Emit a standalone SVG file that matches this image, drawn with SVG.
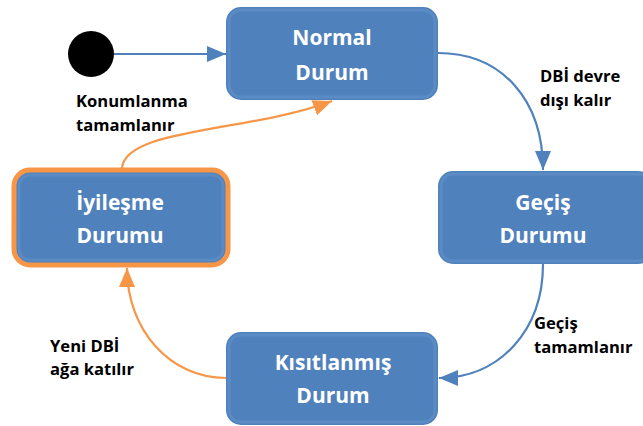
<svg xmlns="http://www.w3.org/2000/svg" width="643" height="426" viewBox="0 0 643 426">
  <style>
    .box { fill: #4F81BD; }
    .bevel { fill: none; stroke: #6A97CF; stroke-width: 3; opacity: 0.45; }
    .ntext { font-family: "Open Sans", "Liberation Sans", sans-serif; font-weight: bold; font-size: 21px; fill: #FFFFFF; text-anchor: middle; }
    .label { font-family: "Open Sans", "Liberation Sans", sans-serif; font-weight: bold; font-size: 16.6px; fill: #000000; }
    .blue { fill: none; stroke: #4F81BD; stroke-width: 2.2; }
    .orange { fill: none; stroke: #F79646; stroke-width: 2.2; }
  </style>
  <defs>
    <marker id="arrowBlue" markerUnits="userSpaceOnUse" markerWidth="20" markerHeight="20" viewBox="0 0 20 20" refX="19" refY="10" orient="auto">
      <path d="M0,2 L19,10 L0,18 Z" fill="#4F81BD"/>
    </marker>
    <marker id="arrowOrange" markerUnits="userSpaceOnUse" markerWidth="20" markerHeight="20" viewBox="0 0 20 20" refX="19" refY="10" orient="auto">
      <path d="M0,2 L19,10 L0,18 Z" fill="#F79646"/>
    </marker>
  </defs>

  <!-- connectors -->
  <g id="connectors">
    <line class="blue" x1="112" y1="54" x2="226" y2="54" marker-end="url(#arrowBlue)"/>
    <path class="blue" d="M438,53 C502,53 543,100 543,170" marker-end="url(#arrowBlue)"/>
    <path class="blue" d="M543,264 C543,330 500,378 439,378" marker-end="url(#arrowBlue)"/>
    <path class="orange" d="M226,378 C170,378 127,330 127,268" marker-end="url(#arrowOrange)"/>
    <path class="orange" d="M122,168 C126,128 250,132 332,101" marker-end="url(#arrowOrange)"/>
  </g>

  <!-- start point -->
  <g id="start">
    <circle cx="91" cy="54" r="23" fill="#000000"/>
  </g>

  <g id="normal">
    <rect class="box" x="226" y="7" width="212" height="93" rx="15"/>
    <rect class="bevel" x="229" y="10" width="206" height="87" rx="12"/>
    <text class="ntext" x="332" y="45">Normal</text>
    <text class="ntext" x="332" y="80">Durum</text>
  </g>

  <g id="gecis">
    <rect class="box" x="438" y="171" width="215" height="93" rx="15"/>
    <rect class="bevel" x="441" y="174" width="209" height="87" rx="12"/>
    <text class="ntext" x="543" y="210">Geçiş</text>
    <text class="ntext" x="543" y="243">Durumu</text>
  </g>

  <g id="kisitlanmis">
    <rect class="box" x="226" y="332" width="212" height="93" rx="15"/>
    <rect class="bevel" x="229" y="335" width="206" height="87" rx="12"/>
    <text class="ntext" x="333" y="370">Kısıtlanmış</text>
    <text class="ntext" x="333" y="403">Durum</text>
  </g>

  <g id="iyilesme">
    <rect class="box" x="14" y="170" width="214" height="95" rx="16" stroke="#F79646" stroke-width="5"/>
    <rect class="bevel" x="19" y="175" width="204" height="85" rx="11"/>
    <text class="ntext" x="120" y="210">İyileşme</text>
    <text class="ntext" x="120" y="243">Durumu</text>
  </g>

  <!-- transition labels -->
  <g id="labels">
    <text class="label" x="76" y="107">Konumlanma</text>
    <text class="label" x="76" y="131">tamamlanır</text>
    <text class="label" x="540" y="82">DBİ devre</text>
    <text class="label" x="540" y="106">dışı kalır</text>
    <text class="label" x="534" y="329">Geçiş</text>
    <text class="label" x="534" y="353">tamamlanır</text>
    <text class="label" x="50" y="352">Yeni DBİ</text>
    <text class="label" x="50" y="375">ağa katılır</text>
  </g>
</svg>
